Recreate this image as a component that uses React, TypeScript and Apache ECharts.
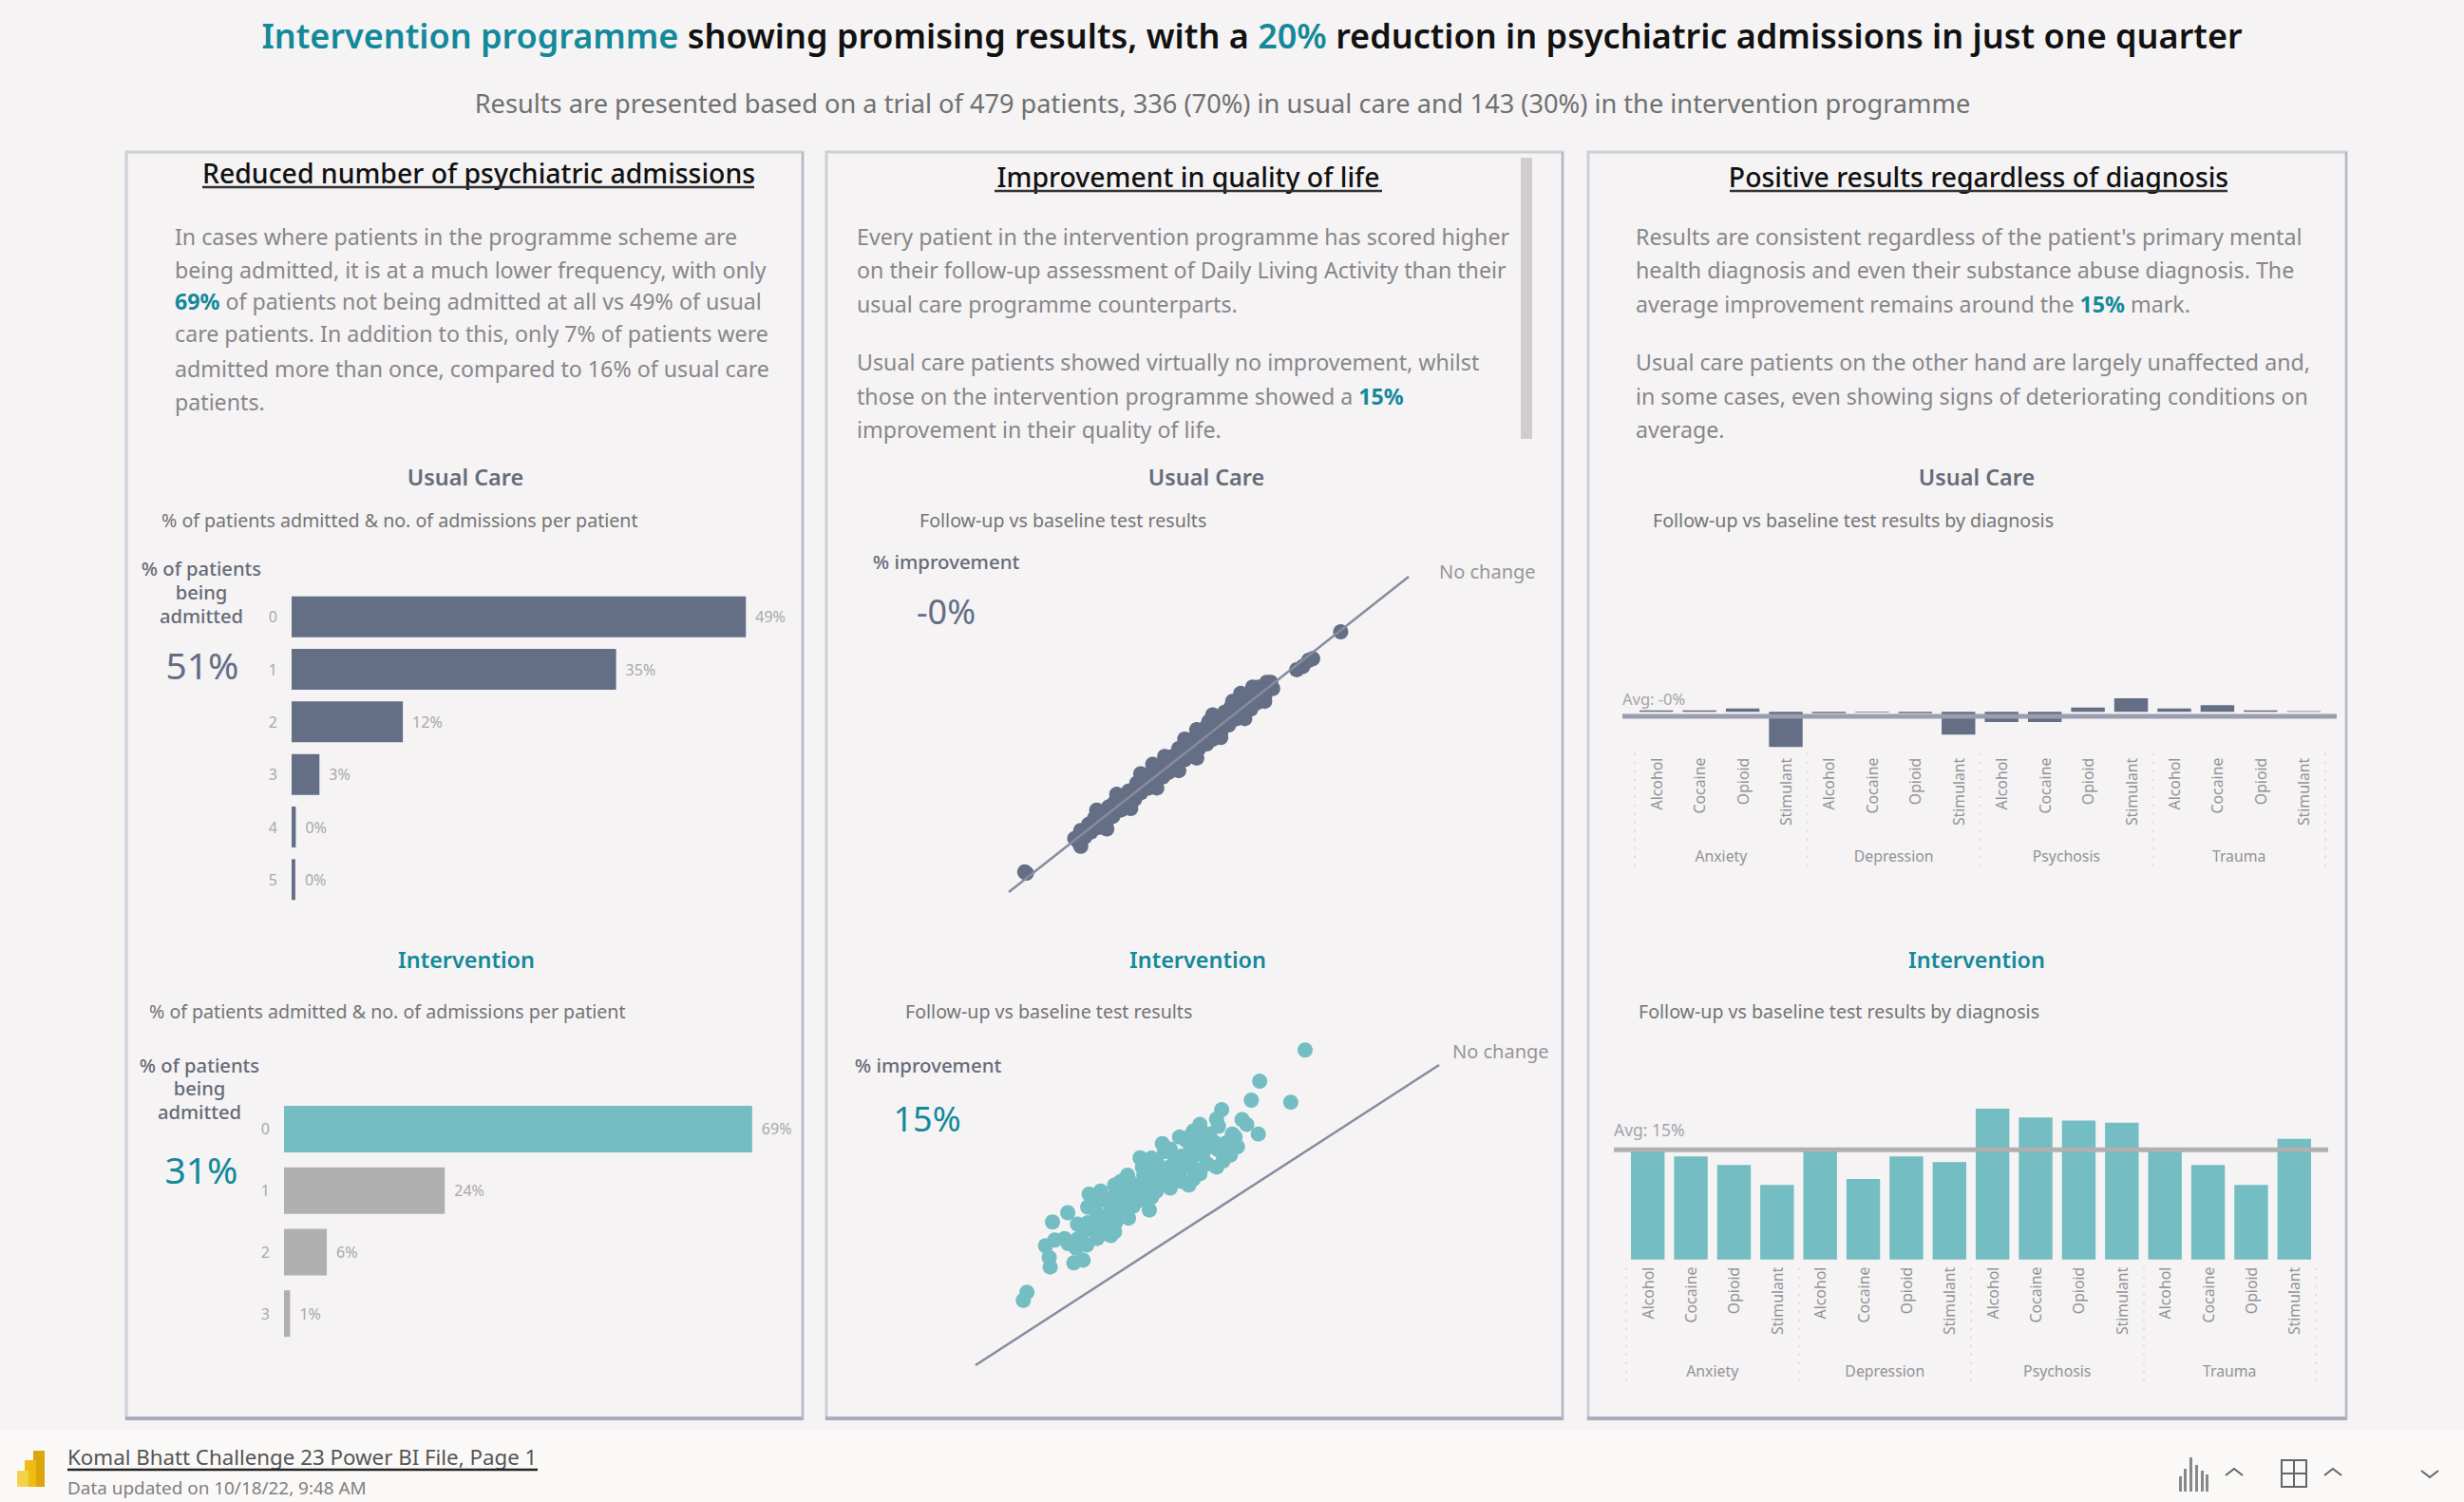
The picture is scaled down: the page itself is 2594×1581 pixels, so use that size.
import React, { useEffect, useRef } from "react";
import * as echarts from "echarts";

const FONT = '"Noto Sans", "Open Sans", sans-serif';
const SLATE = "#646e85";
const TEAL = "#73bdc3";
const TEAL_TEXT = "#13899a";
const GREY_BAR = "#b0b0b0";
const BODY = "#87878a";
const DARK = "#666b78";

const admissionCats = ["0", "1", "2", "3", "4", "5"];
const admissionUsual = [49, 35, 12, 3, 0.45, 0.4];
const admissionCatsInt = ["0", "1", "2", "3"];
const admissionInt = [69, 23.7, 6.3, 0.9];

const noChange = [[0, 0], [100, 100]];
const scatterUsual = [
  [4.4, 6.0], [4.0, 6.4], [16.5, 17], [17.5, 15.8], [18, 19.5], [19, 17.5], [20, 21.5], [20.5, 19], [21.5, 23.5], [22.5, 20.5],
  [23, 24.5], [24.5, 22.5], [25, 27], [26, 24], [26.5, 28.5], [28, 26], [28.5, 30.5], [29.5, 28], [30, 32], [31.5, 29.5],
  [32, 34.5], [33, 31.5], [33.5, 36], [35, 33], [35.5, 37.5], [36.5, 34.5], [37, 39.5], [38.5, 36.5], [39, 41], [40, 38],
  [41, 43], [42, 40], [42.5, 45.5], [44, 42], [44.5, 47], [46, 44], [46, 48.5], [47.5, 45.5], [48, 50.5], [49.5, 47],
  [49.5, 52.5], [51, 48.5], [51, 56.2], [52, 54], [53, 50.5], [54, 57], [55, 53], [55.5, 58.5], [57, 55], [57.5, 60.5],
  [58.5, 56.5], [59, 61.5], [60.5, 58], [61, 63], [62, 60], [62.5, 65], [64, 62], [64.5, 66.5], [66, 64.5], [65.5, 66.5],
  [20, 20], [24, 24.5], [28, 28.5], [32, 32], [36, 36.5], [40, 40.5], [44, 44], [48, 48], [52, 52], [56, 56], [60, 60], [64, 64],
  [72, 70.5], [73.5, 71.5], [75, 73.5], [76, 74], [83, 82.5],
  [22, 26], [24.5, 20], [27, 31], [30.5, 26.5], [33, 37.5], [37, 33], [39, 43], [42.5, 38.5], [44, 48.5], [47, 42.5],
  [50, 54], [53, 49], [56, 60.5], [59, 55], [61, 65], [64, 60.5], [58, 63], [47, 51.5], [36, 40.5], [18, 14.5],
];
const scatterInt = [
  [71.1, 105], [61.3, 94.6], [59.5, 88.3], [68, 87.6], [53.1, 85.1], [57.5, 81.8], [58.5, 80.2], [61, 77], [56.5, 72.8], [53.4, 68],
  [48.4, 80.2], [52.4, 79.6], [51.4, 74.4], [50.4, 77], [45.4, 74.9], [40.3, 73.8], [40.8, 71.2], [48.4, 63.8], [44.4, 61.2], [35.5, 69.1],
  [39.3, 67], [42.3, 66.5], [46.4, 68.6], [31.3, 61.2], [32.8, 63.3], [36.3, 63.3], [37.3, 59.6], [40.3, 60.7], [43.3, 65.4], [24.5, 57],
  [28.2, 54.9], [24.2, 52.7], [32.8, 55.9], [32.3, 51.7], [35.3, 54.9], [37.5, 51.7], [19.9, 50.8], [16.6, 47.7], [29.2, 52.2], [26.2, 50.6],
  [24.2, 47.5], [29.2, 43.2], [26.2, 42.2], [23.2, 44.3], [19.2, 42.2], [21.7, 39], [17.1, 41.7], [15.1, 39.8], [15.9, 35.9], [16.1, 32.7],
  [21.2, 34.1], [23.2, 35], [11.1, 24.3], [10.3, 21.6], [27.2, 45.4], [30.2, 57], [50.4, 72.8], [46.4, 71.7], [34.3, 57], [38.3, 64.3],
  [55.4, 77], [48.4, 74.9], [52.4, 71.7], [44.4, 69.6], [47.4, 65.4], [25.2, 45.4], [30.2, 47.5],
  [24, 46], [26, 47], [28, 48.5], [22, 47], [27, 43.5], [30, 44.5], [22, 42], [24, 40], [20, 40.5], [28, 46],
  [31, 50], [33, 49], [34, 53], [36, 56], [33, 59], [35, 60], [38, 56], [39, 58], [42, 59], [41, 63],
  [44, 64], [38, 61], [36, 66], [38, 69], [43, 69], [45, 66], [47, 62], [42, 72], [44, 76], [47, 72],
  [49, 70], [50, 67], [52, 66], [54, 74], [56, 76], [52, 82], [49, 77], [47, 78], [46, 76], [55, 70],
  [29, 55], [31, 54], [26, 54], [27, 58], [30, 60], [33, 62], [40, 65], [37, 62], [43, 62], [46, 60],
];

const substances = ["Alcohol", "Cocaine", "Opioid", "Stimulant"];
const diagnoses = ["Anxiety", "Depression", "Psychosis", "Trauma"];
const diagCats = diagnoses.flatMap((d) => substances.map((s) => `${d} ${s}`));
const diagUsual = [0.2, 0.2, 0.45, -4.8, -0.2, -0.1, -0.2, -3.1, -1.4, -1.4, 0.6, 1.85, 0.45, 0.9, 0.2, 0.1];
const diagInt = [15.3, 14.1, 12.9, 10.2, 14.9, 11, 14.1, 13.3, 20.6, 19.4, 19, 18.7, 14.9, 12.9, 10.2, 16.5];
const avgUsual = -0.6;
const avgInt = 15;

const titleRuns = "{t|Intervention programme}{k| showing promising results, with a }{t|20%}{k| reduction in psychiatric admissions in just one quarter}";
const subtitle = "Results are presented based on a trial of 479 patients, 336 (70%) in usual care and 143 (30%) in the intervention programme";
const body1 = [
  "In cases where patients in the programme scheme are",
  "being admitted, it is at a much lower frequency, with only",
  "{b|69%} of patients not being admitted at all vs 49% of usual",
  "care patients. In addition to this, only 7% of patients were",
  "admitted more than once, compared to 16% of usual care",
  "patients.",
];
const body2 = [
  "Every patient in the intervention programme has scored higher",
  "on their follow-up assessment of Daily Living Activity than their",
  "usual care programme counterparts.",
  "Usual care patients showed virtually no improvement, whilst",
  "those on the intervention programme showed a {b|15%}",
  "improvement in their quality of life.",
];
const body3 = [
  "Results are consistent regardless of the patient's primary mental",
  "health diagnosis and even their substance abuse diagnosis. The",
  "average improvement remains around the {b|15%} mark.",
  "Usual care patients on the other hand are largely unaffected and,",
  "in some cases, even showing signs of deteriorating conditions on",
  "average.",
];

type Opt = { size?: number; color?: string; weight?: number | string; align?: string; rich?: any };
const txt = (x: number, y: number, text: string, o: Opt = {}) => ({
  type: "text",
  x,
  y: y - 1,
  silent: true,
  z: 20,
  style: {
    text,
    fill: o.color ?? BODY,
    fontFamily: FONT,
    fontSize: o.size ?? 20,
    fontWeight: o.weight ?? 400,
    align: o.align ?? "left",
    verticalAlign: "middle",
    rich: o.rich,
  },
});
const BODY_SIZE = 23.2;
const bodyRich = {
  b: { fill: TEAL_TEXT, color: TEAL_TEXT, fontFamily: FONT, fontSize: BODY_SIZE, fontWeight: 700 },
};
const rect = (x: number, y: number, w: number, h: number, fill: string, z = 1) => ({
  type: "rect",
  silent: true,
  z,
  shape: { x, y, width: w, height: h },
  style: { fill },
});
const line = (x1: number, y1: number, x2: number, y2: number, stroke: string, lineWidth = 2) => ({
  type: "line",
  silent: true,
  z: 20,
  shape: { x1, y1, x2, y2 },
  style: { stroke, lineWidth },
});
const caret = (x: number, y: number, up: boolean) => ({
  type: "polyline",
  silent: true,
  z: 20,
  shape: { points: up ? [[x, y + 7], [x + 9, y], [x + 18, y + 7]] : [[x, y], [x + 9, y + 7], [x + 18, y]] },
  style: { stroke: "#666", lineWidth: 2, fill: "none" },
});
const panel = (x: number, y: number, w: number, h: number) => [
  { type: "rect", silent: true, z: 2, shape: { x, y, width: w, height: h }, style: { fill: "none", stroke: "#cdced7", lineWidth: 3 } },
  rect(x - 1, y + h - 2, w + 2, 4, "#a9adbf", 3),
  rect(x + w - 1, y, 2, h, "#b4b7c6", 3),
];

const graphics = () => {
  const els: any[] = [
    rect(0, 1506, 2594, 75, "#faf9f8", 1),
    ...panel(133, 160, 712, 1333),
    ...panel(870, 160, 775, 1333),
    ...panel(1672, 160, 798, 1333),
    rect(1601, 166, 12, 296, "#cfcdce", 3),
  ];
  els.push(
    txt(1318, 38, titleRuns, {
      size: 36,
      align: "center",
      rich: {
        t: { fill: TEAL_TEXT, color: TEAL_TEXT, fontFamily: FONT, fontSize: 36, fontWeight: 600 },
        k: { fill: "#111", color: "#111", fontFamily: FONT, fontSize: 36, fontWeight: 600 },
      },
    }),
    txt(1287, 109, subtitle, { size: 27.2, color: "#707070", align: "center" })
  );
  const heads: [number, number, string, number, number][] = [
    [504, 183, "Reduced number of psychiatric admissions", 213, 794],
    [1251, 187, "Improvement in quality of life", 1047, 1455],
    [2083, 187, "Positive results regardless of diagnosis", 1821, 2345],
  ];
  heads.forEach(([x, y, t, a, b]) => {
    els.push(txt(x, y, t, { size: 28.4, color: "#111", weight: 500, align: "center" }));
    els.push(line(a, y + 14, b, y + 14, "#333", 2.5));
  });
  const ys1 = [250, 285, 318, 352, 389, 424];
  const ys2 = [250, 285, 321, 382, 418, 453];
  body1.forEach((t, i) => els.push(txt(184, ys1[i], t, { size: BODY_SIZE, rich: bodyRich })));
  body2.forEach((t, i) => els.push(txt(902, ys2[i], t, { size: BODY_SIZE, rich: bodyRich })));
  body3.forEach((t, i) => els.push(txt(1722, ys2[i], t, { size: BODY_SIZE, rich: bodyRich })));

  [490, 1270, 2081].forEach((x) => els.push(txt(x, 503, "Usual Care", { size: 23.4, color: DARK, weight: 600, align: "center" })));
  [491, 1261, 2081].forEach((x) => els.push(txt(x, 1011, "Intervention", { size: 23.4, color: TEAL_TEXT, weight: 600, align: "center" })));

  const sub = "% of patients admitted & no. of admissions per patient";
  els.push(txt(170, 548, sub, { size: 19.6, color: "#747474" }), txt(157, 1065, sub, { size: 19.6, color: "#747474" }));
  const fu = "Follow-up vs baseline test results";
  els.push(txt(968, 548, fu, { size: 19.6, color: "#747474" }), txt(953, 1065, fu, { size: 19.6, color: "#747474" }));
  const fd = "Follow-up vs baseline test results by diagnosis";
  els.push(txt(1740, 548, fd, { size: 19.6, color: "#747474" }), txt(1725, 1065, fd, { size: 19.6, color: "#747474" }));

  ["% of patients", "being", "admitted"].forEach((t, i) => {
    els.push(txt(212, [599, 624, 649][i], t, { size: 20.2, color: DARK, weight: 500, align: "center" }));
    els.push(txt(210, [1122, 1146, 1171][i], t, { size: 20.2, color: DARK, weight: 500, align: "center" }));
  });
  els.push(txt(213, 700, "51%", { size: 39, color: SLATE, align: "center" }));
  els.push(txt(212, 1231, "31%", { size: 39, color: TEAL_TEXT, align: "center" }));
  els.push(txt(996, 592, "% improvement", { size: 20.4, color: DARK, weight: 500, align: "center" }));
  els.push(txt(977, 1122, "% improvement", { size: 20.4, color: DARK, weight: 500, align: "center" }));
  els.push(txt(996, 644, "-0%", { size: 36, color: SLATE, align: "center" }));
  els.push(txt(976, 1178, "15%", { size: 36, color: TEAL_TEXT, align: "center" }));
  els.push(txt(1515, 602, "No change", { size: 20, color: "#95959a" }));
  els.push(txt(1529, 1107, "No change", { size: 20, color: "#95959a" }));
  els.push(txt(1708, 736, "Avg: -0%", { size: 16.5, color: "#a4a4ab" }));
  els.push(txt(1699, 1190, "Avg: 15%", { size: 17.5, color: "#a4a4ab" }));

  els.push(
    rect(35, 1527, 12, 38, "#dca50c", 4),
    rect(26, 1537, 12, 28, "#eebc12", 4),
    rect(18, 1548, 12, 17, "#f6d24a", 4),
    txt(71, 1534, "Komal Bhatt Challenge 23 Power BI File, Page 1", { size: 22.3, color: "#555" }),
    line(71, 1547, 566, 1547, "#222", 2.5),
    txt(71, 1567, "Data updated on 10/18/22, 9:48 AM", { size: 18.9, color: "#808080" })
  );
  [[2294, 16], [2299, 24], [2305, 36], [2311, 28], [2317, 22], [2322, 18]].forEach(([x, h]) =>
    els.push(rect(x, 1570 - h, 3, h, "#888", 4))
  );
  els.push(
    caret(2343, 1546, true),
    { type: "rect", silent: true, z: 20, shape: { x: 2402, y: 1537, width: 26, height: 28 }, style: { fill: "none", stroke: "#666", lineWidth: 2 } },
    line(2415, 1537, 2415, 1565, "#666", 2),
    line(2402, 1551, 2428, 1551, "#666", 2),
    caret(2447, 1546, true),
    caret(2549, 1548, false)
  );
  return els;
};

const barPct = (data: any[], xi: number, yi: number, width: number) => ({
  type: "bar",
  xAxisIndex: xi,
  yAxisIndex: yi,
  data,
  barWidth: width,
  label: {
    show: true,
    position: "right",
    distance: 10,
    fontFamily: FONT,
    fontSize: 16,
    color: "#a8a8ac",
    formatter: (p: any) => `${Math.round(p.value)}%`,
  },
});

const catAxis = (gridIndex: number, data: string[], margin: number) => ({
  type: "category",
  gridIndex,
  inverse: true,
  data,
  axisLine: { show: false },
  axisTick: { show: false },
  axisLabel: { color: "#a8a8ac", fontFamily: FONT, fontSize: 16, margin },
});
const valAxis = (gridIndex: number, min: number, max: number) => ({
  type: "value",
  gridIndex,
  min,
  max,
  show: false,
  splitLine: { show: false },
});
const subAxis = (gridIndex: number) => ({
  type: "category",
  gridIndex,
  position: "bottom",
  data: diagCats,
  axisLine: { show: false },
  axisTick: { show: false },
  axisLabel: {
    interval: 0,
    rotate: 90,
    margin: 8,
    color: "#929297",
    fontFamily: FONT,
    fontSize: 15.8,
    formatter: (v: string) => v.split(" ")[1],
  },
});
const groupAxis = (gridIndex: number, offset: number, labelMargin: number, tick: number) => ({
  type: "category",
  gridIndex,
  position: "bottom",
  offset,
  data: diagnoses,
  axisLine: { show: false },
  axisTick: { show: true, length: tick, lineStyle: { color: "#dcdcdf", type: [2, 7], width: 2 } },
  axisLabel: { margin: labelMargin, color: "#929297", fontFamily: FONT, fontSize: 15.8 },
});

const option: any = {
  animation: false,
  backgroundColor: "#f5f3f4",
  grid: [
    { left: 307, top: 621.5, width: 488, height: 332 },
    { left: 299, top: 1156, width: 500, height: 259 },
    { left: 1062, top: 607, width: 421, height: 332 },
    { left: 1027, top: 1089.4, width: 488, height: 347.6 },
    { left: 1721, top: 730, width: 727, height: 59.7 },
    { left: 1708, top: 730, width: 752, height: 59.7 },
    { left: 1712, top: 1164, width: 726, height: 161.7 },
    { left: 1699, top: 1164, width: 752, height: 161.7 },
  ],
  xAxis: [
    valAxis(0, 0, 50),
    valAxis(1, 0, 70),
    valAxis(2, 0, 100),
    valAxis(3, 0, 100),
    subAxis(4),
    groupAxis(4, 3, 100, 125),
    valAxis(5, 0, 1),
    subAxis(6),
    groupAxis(6, 9, 100, 123),
    valAxis(7, 0, 1),
  ],
  yAxis: [
    catAxis(0, admissionCats, 15),
    catAxis(1, admissionCatsInt, 15),
    valAxis(2, 0, 100),
    valAxis(3, 0, 110),
    valAxis(4, -5.25, 2.5),
    valAxis(5, -5.25, 2.5),
    valAxis(6, 0, 21),
    valAxis(7, 0, 21),
  ],
  series: [
    barPct(admissionUsual.map((v) => ({ value: v, itemStyle: { color: SLATE } })), 0, 0, 43),
    barPct(admissionInt.map((v, i) => ({ value: v, itemStyle: { color: i === 0 ? TEAL : GREY_BAR } })), 1, 1, 49),
    { type: "scatter", xAxisIndex: 2, yAxisIndex: 2, data: scatterUsual, symbolSize: 16, itemStyle: { color: SLATE, opacity: 1 }, z: 2 },
    { type: "line", xAxisIndex: 2, yAxisIndex: 2, data: noChange, symbol: "none", lineStyle: { color: "#868c9e", width: 2.5 }, z: 3 },
    { type: "scatter", xAxisIndex: 3, yAxisIndex: 3, data: scatterInt, symbolSize: 16, itemStyle: { color: TEAL, opacity: 1 }, z: 2 },
    { type: "line", xAxisIndex: 3, yAxisIndex: 3, data: noChange, symbol: "none", lineStyle: { color: "#868c9e", width: 2.5 }, z: 3 },
    { type: "bar", xAxisIndex: 4, yAxisIndex: 4, data: diagUsual, barWidth: "78%", itemStyle: { color: SLATE }, z: 2 },
    { type: "line", xAxisIndex: 6, yAxisIndex: 5, data: [[0, avgUsual], [1, avgUsual]], symbol: "none", lineStyle: { color: "#9a9eae", width: 5 }, z: 3 },
    { type: "bar", xAxisIndex: 7, yAxisIndex: 6, data: diagInt, barWidth: "78%", itemStyle: { color: TEAL }, z: 2 },
    { type: "line", xAxisIndex: 9, yAxisIndex: 7, data: [[0, avgInt], [1, avgInt]], symbol: "none", lineStyle: { color: "#b0b0b0", width: 5 }, z: 3 },
  ],
  graphic: { elements: graphics() },
};

export default function App() {
  const ref = useRef<HTMLDivElement>(null);
  useEffect(() => {
    const chart = echarts.init(ref.current!, undefined, { renderer: "svg" });
    chart.setOption(option);
    return () => chart.dispose();
  }, []);
  return <div ref={ref} style={{ position: "absolute", left: 0, top: 0, width: 2594, height: 1581 }} />;
}
